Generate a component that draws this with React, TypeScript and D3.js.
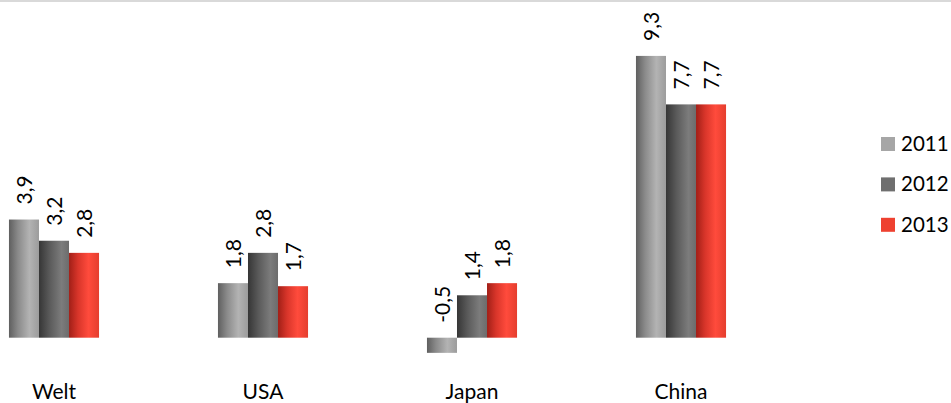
import React from "react";
import * as d3 from "d3";

// Wirtschaftswachstum in %, 2011–2013
const categories = ["Welt", "USA", "Japan", "China"];
const years = ["2011", "2012", "2013"];
const values2011 = [3.9, 1.8, -0.5, 9.3];
const values2012 = [3.2, 2.8, 1.4, 7.7];
const values2013 = [2.8, 1.7, 1.8, 7.7];
const seriesValues = [values2011, values2012, values2013];

const WIDTH = 951;
const HEIGHT = 403;
const FONT = "Lato, 'Open Sans', sans-serif";

// gradient stops per series: dark left edge, highlight right of centre
const gradients = [
  [
    ["0%", "#5f5f5f"],
    ["30%", "#8a8a8a"],
    ["68%", "#b3b3b3"],
    ["100%", "#9c9c9c"],
  ],
  [
    ["0%", "#363636"],
    ["35%", "#5a5a5a"],
    ["75%", "#7c7c7c"],
    ["100%", "#6c6c6c"],
  ],
  [
    ["0%", "#a11f17"],
    ["30%", "#d8352a"],
    ["65%", "#ff4b3c"],
    ["100%", "#e53e2e"],
  ],
];
const legendColors = ["#a6a6a6", "#6f6f6f", "#ee4130"];

const fmt = (v: number) => v.toFixed(1).replace(".", ",");

export default function App() {
  const x0 = d3
    .scaleBand<string>()
    .domain(categories)
    .range([-50.5, 785.5])
    .paddingInner(0.569)
    .paddingOuter(0.2845);
  const x1 = d3
    .scaleBand<string>()
    .domain(years)
    .range([0, x0.bandwidth()]);
  const y = d3.scaleLinear().domain([-1, 10]).range([368, 34.7]);
  const y0 = y(0);

  return (
    <svg
      width={WIDTH}
      height={HEIGHT}
      style={{ position: "absolute", left: 0, top: 0, background: "#fff" }}
      fontFamily={FONT}
    >
      <defs>
        {gradients.map((stops, i) => (
          <linearGradient key={i} id={`bar-grad-${i}`} x1="0" y1="0" x2="1" y2="0">
            {stops.map(([off, col]) => (
              <stop key={off} offset={off} stopColor={col} />
            ))}
          </linearGradient>
        ))}
      </defs>

      <rect x={0} y={0} width={WIDTH} height={2} fill="#d9d9d9" />

      {categories.map((cat, ci) => (
        <g key={cat} transform={`translate(${x0(cat)},0)`}>
          {years.map((yr, si) => {
            const v = seriesValues[si][ci];
            const bx = x1(yr)!;
            const top = Math.min(y(v), y0);
            const h = Math.abs(y(v) - y0);
            const labelY = Math.min(y(v), y0) - 15;
            const cx = bx + x1.bandwidth() / 2;
            return (
              <g key={yr}>
                <rect
                  x={bx}
                  y={top}
                  width={x1.bandwidth()}
                  height={h}
                  fill={`url(#bar-grad-${si})`}
                />
                <text
                  transform={`translate(${cx},${labelY}) rotate(-90)`}
                  dy="0.36em"
                  fontSize={21}
                  fill="#000"
                  textAnchor="start"
                >
                  {fmt(v)}
                </text>
              </g>
            );
          })}
          <text
            x={x0.bandwidth() / 2}
            y={399}
            fontSize={21}
            textAnchor="middle"
            fill="#000"
          >
            {cat}
          </text>
        </g>
      ))}

      <g transform="translate(881,151)">
        {years.map((yr, i) => (
          <g key={yr} transform={`translate(0,${i * 40.4})`}>
            <rect x={0} y={-14} width={14} height={14} fill={legendColors[i]} />
            <text x={20} y={0} fontSize={20.5} fill="#000">
              {yr}
            </text>
          </g>
        ))}
      </g>
    </svg>
  );
}
